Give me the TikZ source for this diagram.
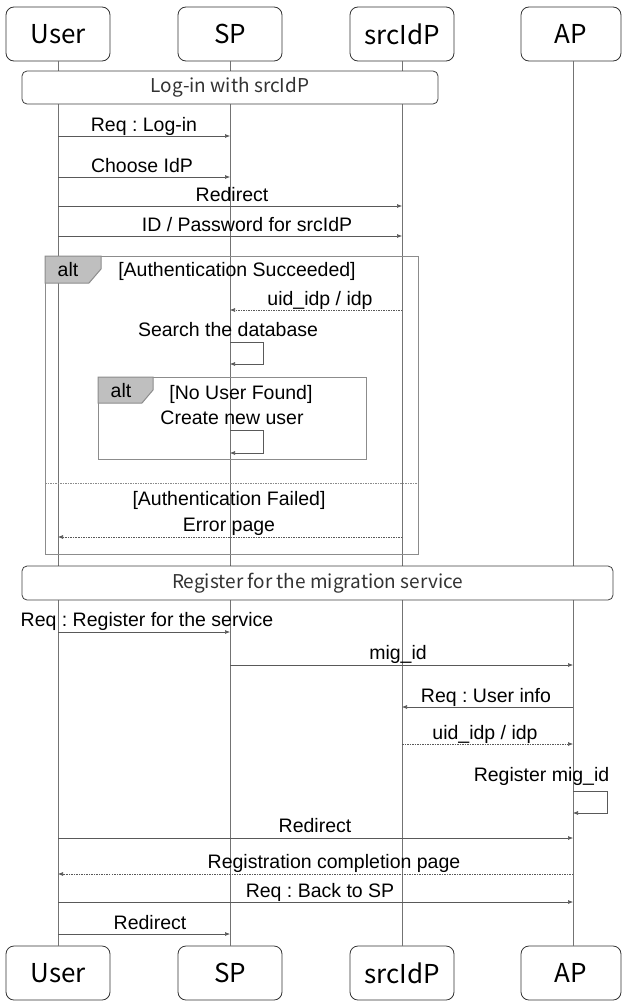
\documentclass[tikz,border=0pt]{standalone}
\usepackage{fontspec}
\setmainfont{Liberation Sans}
\newfontfamily\jp{Noto Sans CJK JP}
\usetikzlibrary{arrows.meta}
\definecolor{lineC}{gray}{0.35}
\definecolor{lifeC}{gray}{0.45}
\definecolor{frameC}{gray}{0.55}
\definecolor{tagC}{gray}{0.75}
\frenchspacing
\begin{document}
\begin{tikzpicture}[x=1pt,y=-1pt,
  part/.style={draw=black!80, fill=white, rounded corners=8pt, line width=0.8pt,
    minimum width=104pt, minimum height=54pt, inner sep=0pt,
    font=\jp\fontsize{26}{26}\selectfont},
  hdr/.style={draw=black!75, fill=white, rounded corners=5pt, line width=0.8pt,
    inner sep=0pt, text=black!80, font=\jp\fontsize{19}{19}\selectfont},
  life/.style={draw=lifeC, line width=0.6pt},
  msg/.style={draw=lineC, line width=0.6pt, -{Latex[length=5pt,width=4pt]}},
  rmsg/.style={msg, dash pattern=on 1.5pt off 1pt},
  lbl/.style={anchor=base, inner sep=0pt, font=\fontsize{19.5}{19.5}\selectfont},
  frame/.style={draw=frameC, line width=1pt, anchor=north west, inner sep=0pt},
  tag/.style={fill=tagC, draw=frameC, line width=1pt},
  sep/.style={draw=frameC, line width=0.6pt, dash pattern=on 1.5pt off 1pt}
]
\useasboundingbox (0,0) rectangle (623,1001);

% participants
\node[part] (uT) at (58,34) {User};
\node[part] (sT) at (230,34) {SP};
\node[part] (iT) at (402,34) {srcIdP};
\node[part, minimum width=100pt] (aT) at (571,34) {AP};
\node[part] (uB) at (58,973) {User};
\node[part] (sB) at (230,973) {SP};
\node[part] (iB) at (402,973) {srcIdP};
\node[part, minimum width=100pt] (aB) at (571,973) {AP};

% lifelines
\draw[life] (uT.south) -- (uB.north);
\draw[life] (sT.south) -- (sB.north);
\draw[life] (iT.south -| 402,0) -- (iB.north -| 402,0);
\draw[life] (aT.south -| 573,0) -- (aB.north -| 573,0);

\coordinate (U) at (58,0);
\coordinate (S) at (230,0);
\coordinate (I) at (402,0);
\coordinate (A) at (573,0);

% header 1
\node[hdr, minimum width=416pt, minimum height=33pt] (h1) at (230,87.5) {Log-in with srcIdP};

\node[lbl] (l1) at (144,131) {Req : Log-in};
\draw[msg] (U |- 0,136) -- (S |- 0,136);
\node[lbl] (l2) at (142,172) {Choose IdP};
\draw[msg] (U |- 0,177) -- (S |- 0,177);
\node[lbl] (l3) at (232,201.5) {Redirect};
\draw[msg] (U |- 0,206) -- (I |- 0,206);
\node[lbl] (l4) at (247,231) {ID / Password for srcIdP};
\draw[msg] (U |- 0,236) -- (I |- 0,236);

% alt frame 1
\node[frame, minimum width=373pt, minimum height=298pt] (alt1) at (45,256) {};
\draw[tag] (alt1.north west) -- ++(56,0) -- ++(0,13) -- ++(-12,14) -- ++(-44,0) -- cycle;
\node[lbl] (alt1t) at (68,276) {alt};
\node[lbl] (c1) at (237,276) {[Authentication Succeeded]};

\node[lbl] (l5) at (320,305) {uid\_idp / idp};
\draw[rmsg] (I |- 0,310) -- (S |- 0,310);
\node[lbl] (l6) at (228,336.5) {Search the database};
\draw[msg] (S |- 0,342) -- ++(33,0) -- ++(0,22) -- (S |- 0,364);

% inner alt
\node[frame, minimum width=268pt, minimum height=82pt] (alt2) at (98,377) {};
\draw[tag] (alt2.north west) -- ++(55,0) -- ++(0,13) -- ++(-11,13) -- ++(-44,0) -- cycle;
\node[lbl] (alt2t) at (121,397) {alt};
\node[lbl] (c2) at (241,399) {[No User Found]};
\node[lbl] (l7) at (232,424) {Create new user};
\draw[msg] (S |- 0,430) -- ++(33,0) -- ++(0,23) -- (S |- 0,453);

\draw[sep] (alt1.west |- 0,483) -- (alt1.east |- 0,483);
\node[lbl] (c3) at (229,505) {[Authentication Failed]};
\node[lbl] (l8) at (229,531) {Error page};
\draw[rmsg] (I |- 0,537) -- (U |- 0,537);

% header 2
\node[hdr, minimum width=591pt, minimum height=34pt] (h2) at (317.5,583) {Register for the migration service};

\node[lbl] (l9) at (147,626.5) {Req : Register for the service};
\draw[msg] (U |- 0,632) -- (S |- 0,632);
\node[lbl] (l10) at (398,659.5) {mig\_id};
\draw[msg] (S |- 0,665) -- (A |- 0,665);
\node[lbl] (l11) at (486,702) {Req : User info};
\draw[msg] (A |- 0,707) -- (I |- 0,707);
\node[lbl] (l12) at (485,739) {uid\_idp / idp};
\draw[rmsg] (I |- 0,744) -- (A |- 0,744);
\node[lbl] (l13) at (541.5,781.5) {Register mig\_id};
\draw[msg] (A |- 0,791) -- ++(34,0) -- ++(0,22) -- (A |- 0,813);
\node[lbl] (l14) at (315,832.5) {Redirect};
\draw[msg] (U |- 0,838) -- (A |- 0,838);
\node[lbl] (l15) at (334,868) {Registration completion page};
\draw[rmsg] (A |- 0,874) -- (U |- 0,874);
\node[lbl] (l16) at (320,897) {Req : Back to SP};
\draw[msg] (U |- 0,902) -- (A |- 0,902);
\node[lbl] (l17) at (150,929) {Redirect};
\draw[msg] (U |- 0,934) -- (S |- 0,934);
\end{tikzpicture}
\end{document}
